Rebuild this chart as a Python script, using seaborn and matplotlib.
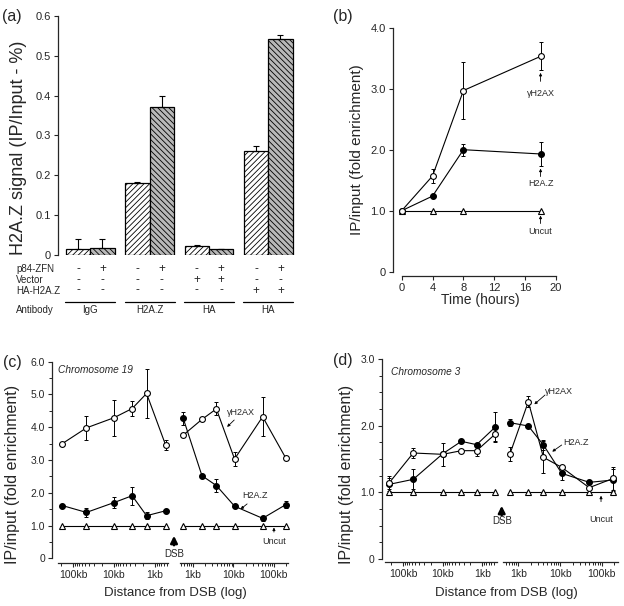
import numpy as np
import pandas as pd
import matplotlib
matplotlib.use('Agg')
import matplotlib.pyplot as plt
import matplotlib.transforms as mtransforms
from matplotlib.ticker import MultipleLocator, NullFormatter, FixedLocator
import seaborn as sns

W, H = 624, 606

# (a) H2A.Z ChIP bars
group_id = [0, 1, 2, 3]
antibody = ['IgG', 'H2A.Z', 'HA', 'HA']
zfn_levels = ['-', '+']
signal_minus = [0.015, 0.181, 0.023, 0.262]
signal_plus = [0.017, 0.371, 0.015, 0.543]
err_minus = [0.024, 0.003, 0.002, 0.011]
err_plus = [0.024, 0.029, 0.001, 0.010]
row_p84 = ['-', '+', '-', '+', '-', '+', '-', '+']
row_vector = ['-', '-', '-', '-', '+', '+', '-', '-']
row_ha = ['-', '-', '-', '-', '-', '-', '+', '+']

# (b) time course
time_h = [0, 4, 8, 18]
b_gh2ax = [1.0, 1.57, 2.97, 3.53]
b_gh2ax_err = [0, 0.12, 0.47, 0.23]
b_h2az = [1.0, 1.24, 2.0, 1.93]
b_h2az_err = [0, 0, 0.1, 0.2]
b_uncut = [1.0, 1.0, 1.0, 1.0]

# (c) chromosome 19, distances in kb
c_left_kb = [182, 47, 10, 3.6, 1.6, 0.55]
c_left_gh2ax = [3.5, 3.98, 4.29, 4.57, 5.03, 3.46]
c_left_gh2ax_err = [0.03, 0.36, 0.55, 0.22, 0.74, 0.15]
c_left_h2az = [1.61, 1.40, 1.70, 1.91, 1.30, 1.45]
c_left_h2az_err = [0.05, 0.15, 0.17, 0.27, 0.11, 0.04]
c_right_kb = [0.575, 1.67, 3.8, 10.7, 53, 200]
c_right_gh2ax = [3.76, 4.24, 4.56, 3.03, 4.32, 3.05]
c_right_gh2ax_err = [0.03, 0.03, 0.2, 0.2, 0.6, 0.03]
c_right_h2az = [4.27, 2.52, 2.22, 1.59, 1.22, 1.64]
c_right_h2az_err = [0.2, 0.03, 0.2, 0.03, 0.07, 0.12]

# (d) chromosome 3
d_left_kb = [225, 56, 10, 3.4, 1.4, 0.47]
d_left_gh2ax = [1.145, 1.59, 1.57, 1.625, 1.625, 1.875]
d_left_gh2ax_err = [0.1, 0.08, 0.17, 0.03, 0.08, 0.1]
d_left_h2az = [1.12, 1.195, 1.58, 1.765, 1.715, 1.98]
d_left_h2az_err = [0.1, 0.15, 0.03, 0.03, 0.03, 0.23]
d_right_kb = [0.63, 1.74, 4.0, 11, 50, 190]
d_right_gh2ax = [1.575, 2.36, 1.525, 1.375, 1.07, 1.21]
d_right_gh2ax_err = [0.11, 0.08, 0.24, 0.03, 0.03, 0.17]
d_right_h2az = [2.045, 1.995, 1.71, 1.285, 1.15, 1.185]
d_right_h2az_err = [0.05, 0.02, 0.07, 0.1, 0.03, 0.17]

sns.set_style('ticks')
plt.rcParams['font.family'] = ['Liberation Sans', 'DejaVu Sans']
plt.rcParams['hatch.linewidth'] = 0.6
plt.rcParams['axes.linewidth'] = 0.9

fig = plt.figure(figsize=(W / 100, H / 100), dpi=100)


def fx(x):
    return x / W


def fy(y):
    return 1 - y / H


def add_ax(l, t, r, b):
    return fig.add_axes([l / W, 1 - b / H, (r - l) / W, (b - t) / H])


def pt(px):
    return px * 72 / 100


def style_ax(ax, left_px=0, bottom_px=0, size=8):
    sns.despine(ax=ax)
    ax.spines['left'].set_position(('outward', pt(left_px)))
    ax.spines['bottom'].set_position(('outward', pt(bottom_px)))
    ax.tick_params(labelsize=size, length=3, width=0.8, pad=2)
    ax.tick_params(which='minor', length=2, width=0.7)


def series(ax, x, y, err, marker, face):
    if err is not None:
        ax.errorbar(x, y, yerr=err, fmt='none', ecolor='black', elinewidth=0.7,
                    capsize=1.6, capthick=0.7, zorder=2, clip_on=False)
    sns.lineplot(x=x, y=y, ax=ax, color='black', lw=0.8, marker=marker, markersize=4.2,
                 markerfacecolor=face, markeredgecolor='black', markeredgewidth=0.8,
                 errorbar=None, sort=False, clip_on=False, zorder=3)


def small_arrow(ax, tail, tip):
    ax.annotate('', xy=tip, xytext=tail,
                arrowprops=dict(arrowstyle='-|>', color='black', lw=0.6,
                                mutation_scale=4, shrinkA=0, shrinkB=0))


def dsb_arrow(x, tip, tail, text_y):
    fig.patches.append(matplotlib.patches.FancyArrowPatch(
        (fx(x), fy(tail)), (fx(x), fy(tip)), transform=fig.transFigure,
        arrowstyle='-|>', mutation_scale=10, lw=1.8, color='black'))
    fig.text(fx(x), fy(text_y), 'DSB', ha='center', va='center', fontsize=7)


# ---------- (a)
ax_a = add_ax(58, 16, 295, 255)
df_a = pd.DataFrame({'group': group_id * 2,
                     'zfn': ['-'] * 4 + ['+'] * 4,
                     'signal': signal_minus + signal_plus})
sns.barplot(data=df_a, x='group', y='signal', hue='zfn', hue_order=zfn_levels,
            palette={'-': 'white', '+': '#b8b8b8'}, width=0.82, errorbar=None,
            edgecolor='black', linewidth=0.9, legend=False, ax=ax_a)
for p in ax_a.patches:
    cx = p.get_x() + p.get_width() / 2
    p.set_hatch('//////' if cx < round(cx) else '\\\\\\\\\\\\')
half = 0.82 / 4
gx = np.array(group_id)
ax_a.errorbar(gx - half, signal_minus, yerr=[np.zeros(4), err_minus], fmt='none',
              ecolor='black', elinewidth=0.8, capsize=2.5, capthick=0.8)
ax_a.errorbar(gx + half, signal_plus, yerr=[np.zeros(4), err_plus], fmt='none',
              ecolor='black', elinewidth=0.8, capsize=2.5, capthick=0.8)
ax_a.set_xlim(-0.545, 3.45)
ax_a.set_ylim(0, 0.6)
style_ax(ax_a)
ax_a.spines['bottom'].set_visible(False)
ax_a.set_xticks([])
ax_a.set_xlabel('')
ax_a.set_ylabel('')
ax_a.set_yticks(np.arange(0, 0.61, 0.1))
ax_a.set_yticklabels(['0', '0.1', '0.2', '0.3', '0.4', '0.5', '0.6'])
fig.text(fx(19), fy(148), 'H2A.Z signal (IP/Input - %)', rotation=90,
         ha='center', va='center', fontsize=13)

trans_a = mtransforms.blended_transform_factory(ax_a.transData, fig.transFigure)
bar_x = [g + s * half for g in group_id for s in (-1, 1)]
for name, row, y in [('p84-ZFN', row_p84, 269), ('Vector', row_vector, 280),
                     ('HA-H2A.Z', row_ha, 290.5)]:
    fig.text(fx(16), fy(y), name, ha='left', va='center', fontsize=7)
    for xb, s in zip(bar_x, row):
        ax_a.text(xb, fy(y), s, transform=trans_a, ha='center', va='center', fontsize=8.5)
fig.text(fx(16), fy(310), 'Antibody', ha='left', va='center', fontsize=7)
for g, lab in zip(group_id, antibody):
    ax_a.plot([g - 0.42, g + 0.42], [fy(301.5)] * 2, transform=trans_a,
              color='black', lw=0.9, clip_on=False)
    ax_a.text(g, fy(310), lab, transform=trans_a, ha='center', va='center', fontsize=7)

# ---------- (b)
ax_b = add_ax(401.7, 27.7, 556, 271.7)
series(ax_b, time_h, b_uncut, None, '^', 'white')
series(ax_b, time_h, b_h2az, b_h2az_err, 'o', 'black')
series(ax_b, time_h, b_gh2ax, b_gh2ax_err, 'o', 'white')
ax_b.set_xlim(0, 20)
ax_b.set_ylim(0, 4)
style_ax(ax_b, 9, 4)
ax_b.set_xticks(range(0, 21, 4))
ax_b.set_yticks([0, 1, 2, 3, 4])
ax_b.set_yticklabels(['0', '1.0', '2.0', '3.0', '4.0'])
ax_b.set_xlabel('')
ax_b.set_ylabel('')
fig.text(fx(480), fy(300), 'Time (hours)', ha='center', va='center', fontsize=10)
fig.text(fx(357.5), fy(150), 'IP/input (fold enrichment)', rotation=90,
         ha='center', va='center', fontsize=11)
ax_b.text(18, 2.92, '\u03b3H2AX', ha='center', va='center', fontsize=6.5)
small_arrow(ax_b, (18, 3.12), (18, 3.26))
ax_b.text(18, 1.44, 'H2A.Z', ha='center', va='center', fontsize=6.5)
small_arrow(ax_b, (18, 1.56), (18, 1.69))
ax_b.text(18, 0.66, 'Uncut', ha='center', va='center', fontsize=6.5)
small_arrow(ax_b, (18, 0.79), (18, 0.92))


# ---------- (c) and (d): broken log axis around the DSB
def broken_panel(boxL, boxR, ylim, major, minor, ylabels, left_off, bottom_off,
                 xlimL, xlimR, left_data, right_data):
    axL = add_ax(*boxL)
    axR = add_ax(*boxR)
    for ax, xlim in ((axL, xlimL), (axR, xlimR)):
        ax.set_xscale('log')
        ax.set_xlim(*xlim)
        ax.set_ylim(*ylim)
    for ax, (kb, gh, gh_err, hz, hz_err) in ((axL, left_data), (axR, right_data)):
        series(ax, kb, [1.0] * len(kb), None, '^', 'white')
        series(ax, kb, hz, hz_err, 'o', 'black')
        series(ax, kb, gh, gh_err, 'o', 'white')
    for ax in (axL, axR):
        style_ax(ax, left_off, bottom_off, size=7.5)
        ax.xaxis.set_major_locator(FixedLocator([1, 10, 100]))
        ax.set_xticks([1, 10, 100])
        ax.set_xticklabels(['1kb', '10kb', '100kb'])
        ax.xaxis.set_minor_formatter(NullFormatter())
        ax.set_xlabel('')
        ax.set_ylabel('')
        ax.set_yticks(major)
        ax.set_yticklabels(ylabels)
        ax.yaxis.set_minor_locator(MultipleLocator(minor))
    axR.spines['left'].set_visible(False)
    axR.tick_params(axis='y', which='both', left=False, labelleft=False)
    return axL, axR


cL, cR = broken_panel((58, 361.7, 168, 558.3), (180, 361.7, 288, 558.3), (0, 6),
                      [0, 1, 2, 3, 4, 5, 6], 0.5,
                      ['0', '1.0', '2.0', '3.0', '4.0', '5.0', '6.0'], 6, 5,
                      (232, 0.48), (0.478, 225),
                      (c_left_kb, c_left_gh2ax, c_left_gh2ax_err, c_left_h2az, c_left_h2az_err),
                      (c_right_kb, c_right_gh2ax, c_right_gh2ax_err, c_right_h2az, c_right_h2az_err))
cL.text(0.0, 0.96, 'Chromosome 19', transform=cL.transAxes, style='italic',
        ha='left', va='center', fontsize=7.3)
cR.text(7.0, 4.44, '\u03b3H2AX', ha='left', va='center', fontsize=6.5)
small_arrow(cR, (10.5, 4.22), (7.0, 4.01))
cR.text(16.9, 1.93, 'H2A.Z', ha='left', va='center', fontsize=6.5)
small_arrow(cR, (21.9, 1.66), (15.1, 1.5))
cR.text(101, 0.5, 'Uncut', ha='center', va='center', fontsize=6.5)
small_arrow(cR, (101, 0.8), (101, 0.94))
dsb_arrow(174, 533, 548, 554)
fig.text(fx(13), fy(474), 'IP/input (fold enrichment)', rotation=90,
         ha='center', va='center', fontsize=11.5)
fig.text(fx(175), fy(593), 'Distance from DSB (log)', ha='center', va='center', fontsize=9.5)

dL, dR = broken_panel((385, 359, 497, 559), (503, 359, 618, 559), (0, 3),
                      [0, 1, 2, 3], 0.25, ['0', '1.0', '2.0', '3.0'], 3.3, 2.7,
                      (290, 0.427), (0.43, 245),
                      (d_left_kb, d_left_gh2ax, d_left_gh2ax_err, d_left_h2az, d_left_h2az_err),
                      (d_right_kb, d_right_gh2ax, d_right_gh2ax_err, d_right_h2az, d_right_h2az_err))
dL.text(0.05, 0.937, 'Chromosome 3', transform=dL.transAxes, style='italic',
        ha='left', va='center', fontsize=7.3)
dR.text(4.37, 2.51, '\u03b3H2AX', ha='left', va='center', fontsize=6.5)
small_arrow(dR, (4.37, 2.46), (2.42, 2.32))
dR.text(11.8, 1.75, 'H2A.Z', ha='left', va='center', fontsize=6.5)
small_arrow(dR, (10.96, 1.71), (6.5, 1.61))
dR.text(96, 0.585, 'Uncut', ha='center', va='center', fontsize=6.5)
small_arrow(dR, (96, 0.86), (96, 0.95))
dsb_arrow(501.7, 503, 518, 521)
fig.text(fx(347), fy(474), 'IP/input (fold enrichment)', rotation=90,
         ha='center', va='center', fontsize=11.5)
fig.text(fx(506.7), fy(593), 'Distance from DSB (log)', ha='center', va='center', fontsize=9.5)

# panel letters
for lab, x, y in [('(a)', 12, 16.5), ('(b)', 343, 16.5), ('(c)', 12.5, 362.5), ('(d)', 342.5, 361)]:
    fig.text(fx(x), fy(y), lab, ha='center', va='center', fontsize=11.5)

fig.savefig('out.png', dpi=100, facecolor='white')
